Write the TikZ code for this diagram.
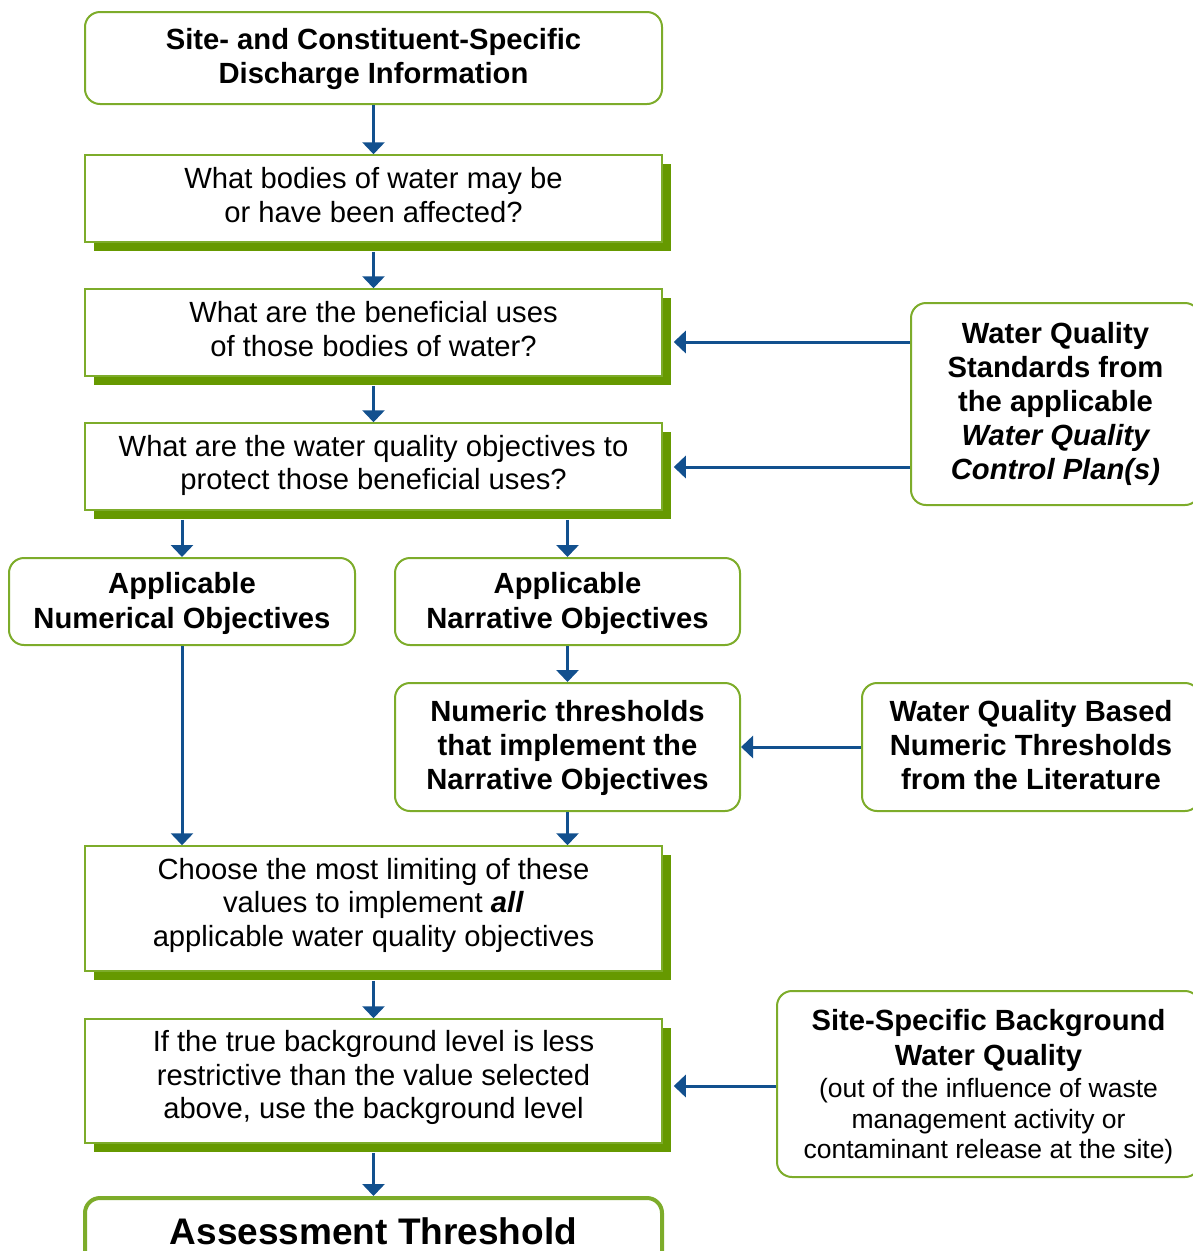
\documentclass[tikz,border=0pt]{standalone}
\usepackage{fontspec}
\setmainfont{Liberation Sans}
\usetikzlibrary{arrows.meta,shadows,calc}
\definecolor{gborder}{RGB}{125,172,42}
\definecolor{gshadow}{RGB}{102,153,0}
\definecolor{ablue}{RGB}{18,80,142}
\tikzset{
  base/.style={draw=gborder, fill=white, line width=2pt, align=center, inner sep=0pt,
    font=\fontsize{29.2}{34}\selectfont, text=black},
  rbox/.style={base, rounded corners=15pt},
  sbox/.style={base, line width=1.5pt, font=\fontsize{29.2}{33.5}\selectfont,
    general shadow={fill=gshadow, shadow xshift=9pt, shadow yshift=-9pt}},
  arr/.style={draw=ablue, line width=3pt, -{Triangle[width=22pt,length=12pt]}},
}
\begin{document}
\begin{tikzpicture}[x=1pt,y=-1pt]
\useasboundingbox (0,0) rectangle (1193,1251);

\node[rbox, minimum width=577pt, minimum height=92pt, text depth=4pt] (b1) at (373.5,58)
  {\bfseries Site- and Constituent-Specific\\ \bfseries Discharge Information};
\node[sbox, minimum width=577pt, minimum height=87pt, text depth=7.5pt] (b2) at (373.5,198.5)
  {What bodies of water may be\\ or have been affected?};
\node[sbox, minimum width=577pt, minimum height=87pt, text depth=7.5pt] (b3) at (373.5,332.5)
  {What are the beneficial uses\\ of those bodies of water?};
\node[sbox, minimum width=577pt, minimum height=87pt, text depth=8pt] (b4) at (373.5,466.5)
  {What are the water quality objectives to\\ protect those beneficial uses?};
\node[rbox, minimum width=346pt, minimum height=87pt, text depth=2pt] (b5) at (182,601.5)
  {\bfseries Applicable\\[1pt] \bfseries Numerical Objectives};
\node[rbox, minimum width=345pt, minimum height=87pt, text depth=2pt] (b6) at (567.5,601.5)
  {\bfseries Applicable\\[1pt] \bfseries Narrative Objectives};
\node[rbox, minimum width=345pt, minimum height=128pt, text depth=4pt] (b7) at (567.5,747)
  {\bfseries Numeric thresholds\\ \bfseries that implement the\\ \bfseries Narrative Objectives};
\node[sbox, minimum width=577pt, minimum height=125pt, text depth=13pt] (b8) at (373.5,908.5)
  {Choose the most limiting of these\\ values to implement \textbf{\textit{all}}\\ applicable water quality objectives};
\node[sbox, minimum width=577pt, minimum height=124pt, text depth=13pt] (b9) at (373.5,1081)
  {If the true background level is less\\ restrictive than the value selected\\ above, use the background level};
\node[rbox, line width=4pt, minimum width=577pt, minimum height=76pt,
  font=\fontsize{37}{42}\selectfont\bfseries] (b10) at (373.5,1236)
  {\raisebox{10pt}{Assessment Threshold}};

\node[rbox, minimum width=289pt, minimum height=202pt] (r1) at (1055.5,404)
  {\bfseries Water Quality\\ \bfseries Standards from\\ \bfseries the applicable\\
   \bfseries\itshape Water Quality\\ \bfseries\itshape Control Plan(s)};
\node[rbox, minimum width=338pt, minimum height=128pt, text depth=4pt] (r2) at (1031,747)
  {\bfseries Water Quality Based\\ \bfseries Numeric Thresholds\\ \bfseries from the Literature};
\node[rbox, minimum width=423pt, minimum height=186pt, text depth=0pt] (r3) at (988.5,1084)
  {\bfseries Site-Specific Background\\[1pt] \bfseries Water Quality\\[-2pt]
   {\fontsize{26.5}{30}\selectfont (out of the influence of waste}\\[-3pt]
   {\fontsize{26.5}{30}\selectfont management activity or}\\[-4pt]
   {\fontsize{26.5}{30}\selectfont contaminant release at the site)}};

\draw[arr] (b1.south) -- (b2.north);
\draw[arr] (b2.south) ++(0,9) -- (b3.north);
\draw[arr] (b3.south) ++(0,9) -- (b4.north);
\draw[arr] (b4.south -| b5.north) ++(0,9) -- (b5.north);
\draw[arr] (b4.south -| b6.north) ++(0,9) -- (b6.north);
\draw[arr] (b6.south) -- (b7.north);
\draw[arr] (b5.south) -- (b5.south |- b8.north);
\draw[arr] (b7.south) -- (b7.south |- b8.north);
\draw[arr] (b8.south) ++(0,9) -- (b9.north);
\draw[arr] (b9.south) ++(0,9) -- (b10.north);

\draw[arr] (r1.west |- b3.east) ++(0,9.5) -- ($(b3.east)+(11,9.5)$);
\draw[arr] (r1.west |- b4.east) ++(0,0.5) -- ($(b4.east)+(11,0.5)$);
\draw[arr] (r2.west) -- (b7.east);
\draw[arr] (r3.west) ++(0,2) -- ($(r3.west -| b9.east)+(11,2)$);
\end{tikzpicture}
\end{document}
